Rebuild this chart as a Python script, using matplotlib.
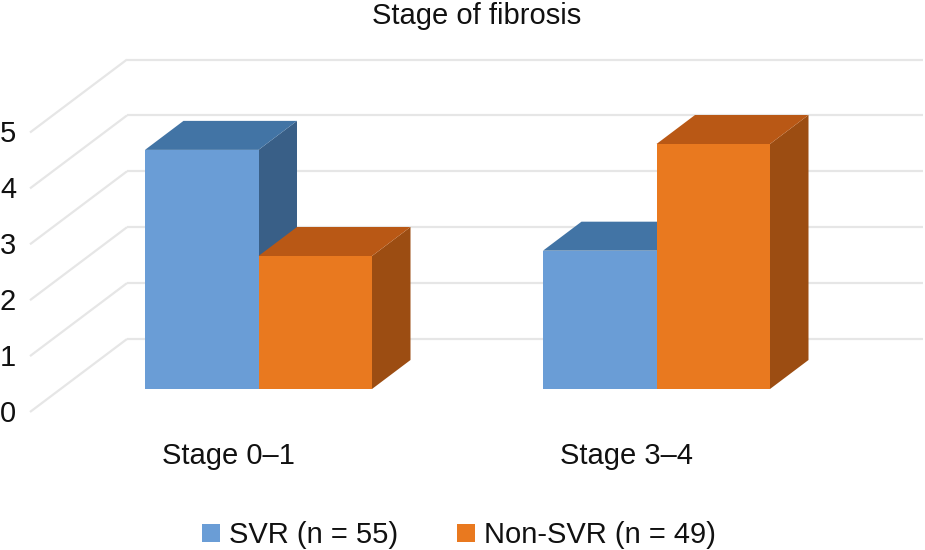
import matplotlib
matplotlib.use("Agg")
import matplotlib.pyplot as plt
from matplotlib.patches import Polygon, Rectangle

categories = ["Stage 0\u20131", "Stage 3\u20134"]
series_names = ["SVR (n = 55)", "Non-SVR (n = 49)"]
svr = [4.27, 2.47]
non_svr = [2.375, 4.375]
y_ticks = [0, 1, 2, 3, 4, 5]

plt.rcParams["font.family"] = ["Liberation Sans"]
fig = plt.figure(figsize=(9.25, 5.5), dpi=100)
ax = fig.add_axes([0, 0, 1, 1])
ax.set_xlim(0, 925)
ax.set_ylim(550, 0)
ax.axis("off")

UNIT = 56.0
BASE_Y = 389
DX, DY = 38.5, 29
BAR_W = 113.5
GROUP_X = [145, 543]
FACE = ["#6A9DD6", "#E9791F"]
TOP = ["#4274A5", "#B95815"]
SIDE = ["#395F87", "#9C4D12"]
TXT = "#111111"
GRID = "#E6E6E6"

def y_back(v):
    return 339 - v * 55.9

for v in y_ticks:
    ax.plot([127, 923], [y_back(v)] * 2, color=GRID, lw=1.6, zorder=1, solid_capstyle="butt")
    ax.plot([30, 127], [y_back(v) + 73, y_back(v)], color=GRID, lw=1.6, zorder=1, solid_capstyle="butt")
    ax.text(8, y_back(v) + 75, str(v), fontsize=21, color=TXT, ha="center", va="center")

def bar(x, v, i, z):
    top = BASE_Y - v * UNIT
    ax.add_patch(Polygon([(x + BAR_W, BASE_Y), (x + BAR_W + DX, BASE_Y - DY), (x + BAR_W + DX, top - DY), (x + BAR_W, top)], fc=SIDE[i], ec="none", zorder=z))
    ax.add_patch(Polygon([(x, top), (x + DX, top - DY), (x + BAR_W + DX, top - DY), (x + BAR_W, top)], fc=TOP[i], ec="none", zorder=z))
    ax.add_patch(Rectangle((x, top), BAR_W, v * UNIT, fc=FACE[i], ec="none", zorder=z + 0.1))

for k, gx in enumerate(GROUP_X):
    bar(gx, svr[k], 0, 2)
    bar(gx + BAR_W, non_svr[k], 1, 3)
    ax.text(gx + 83, 456, categories[k], fontsize=21, color=TXT, ha="center", va="center")

ax.text(477, 16, "Stage of fibrosis", fontsize=21, color=TXT, ha="center", va="center")

for i, (sx, tx) in enumerate([(202, 229), (457, 484)]):
    ax.add_patch(Rectangle((sx, 524), 18, 18, fc=FACE[i], ec="none"))
    ax.text(tx, 535, series_names[i], fontsize=21, color=TXT, ha="left", va="center")

fig.savefig("out.png", dpi=100)
